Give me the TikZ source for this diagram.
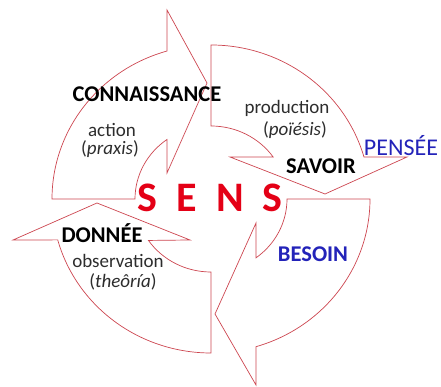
\documentclass[tikz,border=0pt]{standalone}
\usepackage{fontspec}
\setmainfont{Carlito}
\definecolor{arrred}{RGB}{205,70,80}
\definecolor{sensred}{RGB}{228,0,22}
\definecolor{blu}{RGB}{35,35,185}
\definecolor{txtgray}{RGB}{45,45,45}
\begin{document}
\begin{tikzpicture}[x=1pt,y=1pt,
  arr/.style={draw=arrred, fill=white, line width=0.7pt, line join=miter},
  lbl/.style={anchor=base, inner sep=0pt, text=txtgray, font=\fontsize{19}{22}\selectfont},
  lblb/.style={anchor=base, inner sep=0pt, text=black, font=\fontsize{22.5}{26}\selectfont\bfseries},
  sensl/.style={anchor=base, inner sep=0pt, text=sensred, font=\fontsize{42}{48}\selectfont\bfseries},
  pens/.style={anchor=base, inner sep=0pt, text=blu, font=\fontsize{24}{28}\selectfont},
  besl/.style={anchor=base, inner sep=0pt, text=blu, font=\fontsize{22.5}{26}\selectfont\bfseries}]
\useasboundingbox (0,0) rectangle (441,387);
\coordinate (c) at (211,188);
% arrow 1 (left -> top)
\path[arr] ([shift={(c)}]180:159 and 154) arc[start angle=180,end angle=106.06,x radius=159,y radius=154]
  -- (167,377) -- (207,304) -- (167,214)
  -- ([shift={(c)}]125.4:76 and 73) arc[start angle=125.4,end angle=180,x radius=76,y radius=73] -- cycle;
% arrow 2 (top -> right)
\path[arr] ([shift={(c)}]90:159 and 154) arc[start angle=90,end angle=15.8,x radius=159,y radius=154]
  -- (407,230) -- (325,193) -- (230,230)
  -- ([shift={(c)}]35.1:76 and 73) arc[start angle=35.1,end angle=90,x radius=76,y radius=73] -- cycle;
% arrow 3 (right -> bottom)
\path[arr] ([shift={(c)}]0:159 and 154) arc[start angle=0,end angle=-73.56,x radius=159,y radius=154]
  -- (256,2) -- (215,73) -- (256,164)
  -- ([shift={(c)}]-53.7:76 and 73) arc[start angle=-53.7,end angle=0,x radius=76,y radius=73] -- cycle;
% arrow 4 (bottom -> left)
\path[arr] ([shift={(c)}]270:159 and 154) arc[start angle=270,end angle=195.4,x radius=159,y radius=154]
  -- (13,147) -- (97,184) -- (190,147)
  -- ([shift={(c)}]214.6:76 and 73) arc[start angle=214.6,end angle=270,x radius=76,y radius=73] -- cycle;
% texts
\node[lblb] (connaissance) at (147,285) {CONNAISSANCE};
\node[lbl] (action) at (112,250) {action};
\node[lbl] (praxis) at (110,232) {(\textit{praxis})};
\node[lbl] (production) at (287,273) {production};
\node[lbl] (poiesis) at (295,251) {(\textit{poïésis})};
\node[pens] (pensee) at (401,231) {PENSÉE};
\node[lblb] (savoir) at (321,213) {SAVOIR};
\node[sensl] (s1) at (147,175) {S};
\node[sensl] (e) at (187,175) {E};
\node[sensl] (n) at (230,175) {N};
\node[sensl] (s2) at (272,175) {S};
\node[besl] (besoin) at (313,125) {BESOIN};
\node[lblb] (donnee) at (102,144) {DONNÉE};
\node[lbl] (observation) at (118,119) {observation};
\node[lbl] (theoria) at (123,99) {(\textit{theôría})};
\end{tikzpicture}
\end{document}
